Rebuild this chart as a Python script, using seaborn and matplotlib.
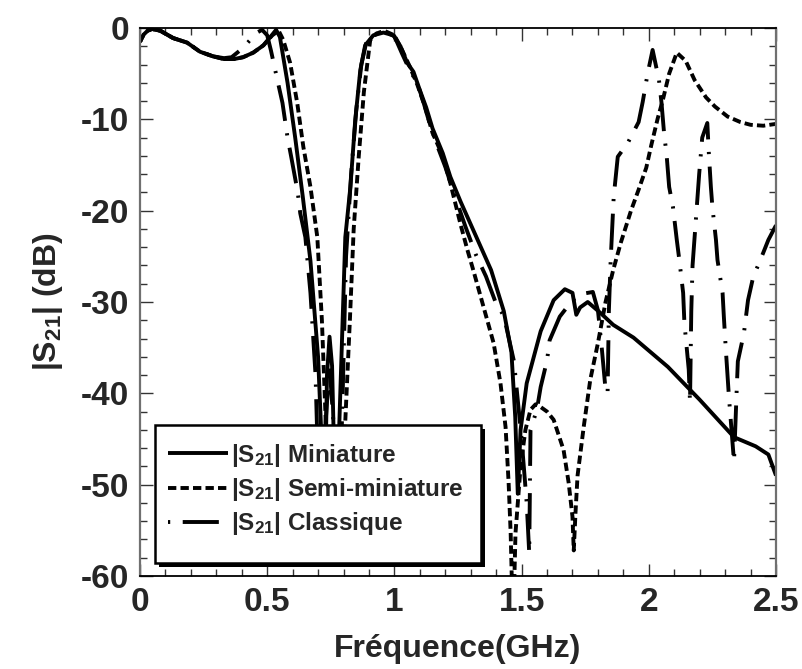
import matplotlib
matplotlib.use("Agg")
import matplotlib.pyplot as plt
import seaborn as sns
import pandas as pd
from matplotlib.patches import Rectangle

# ---------------- data ----------------
f_mini = [0.000, 0.015, 0.030, 0.047, 0.080, 0.130, 0.185, 0.236, 0.287, 0.330,
          0.370, 0.405, 0.445, 0.485, 0.515, 0.535, 0.550, 0.580, 0.610, 0.640,
          0.670, 0.700, 0.715, 0.725, 0.735, 0.745, 0.755, 0.770, 0.785, 0.807,
          0.827, 0.846, 0.866, 0.885, 0.917, 0.957, 0.996, 1.024, 1.050, 1.075,
          1.100, 1.125, 1.150, 1.190, 1.220, 1.260, 1.300, 1.340, 1.380, 1.430,
          1.460, 1.475, 1.485, 1.496, 1.520, 1.575, 1.626, 1.670, 1.700, 1.715,
          1.730, 1.760, 1.810, 1.860, 1.940, 2.075, 2.200, 2.335, 2.420, 2.470,
          2.500]
s21_mini = [-1.5, -0.7, -0.3, -0.1, -0.3, -1.1, -1.6, -2.6, -3.1, -3.4,
            -3.4, -3.2, -2.7, -1.9, -0.9, -0.2, -1.0, -6.0, -12.0, -18.5,
            -25.5, -36.0, -46.0, -55.0, -38.0, -33.8, -37.0, -55.0, -42.0, -22.9,
            -17.4, -10.1, -4.6, -1.9, -0.8, -0.5, -0.8, -2.0, -3.8, -4.8,
            -6.8, -8.7, -11.0, -13.7, -16.3, -19.0, -21.5, -24.0, -26.5, -31.0,
            -35.5, -42.6, -51.0, -44.0, -38.9, -33.2, -29.8, -28.6, -29.0, -31.4,
            -30.6, -30.0, -31.2, -32.5, -33.9, -37.1, -40.7, -44.8, -45.8, -46.7,
            -49.0]

f_semi = [0.000, 0.015, 0.030, 0.047, 0.080, 0.130, 0.185, 0.236, 0.287, 0.330,
          0.370, 0.405, 0.445, 0.485, 0.520, 0.545, 0.563, 0.590, 0.618, 0.642,
          0.670, 0.697, 0.715, 0.730, 0.745, 0.760, 0.785, 0.807, 0.825, 0.840,
          0.860, 0.880, 0.905, 0.930, 0.960, 1.000, 1.030, 1.060, 1.090, 1.120,
          1.150, 1.190, 1.220, 1.260, 1.287, 1.310, 1.350, 1.390, 1.417, 1.437,
          1.449, 1.457, 1.463, 1.470, 1.476, 1.496, 1.515, 1.535, 1.555, 1.575,
          1.600, 1.626, 1.665, 1.685, 1.700, 1.705, 1.712, 1.720, 1.744, 1.770,
          1.800, 1.830, 1.860, 1.890, 1.930, 1.960, 1.990, 2.010, 2.035, 2.055,
          2.080, 2.110, 2.145, 2.180, 2.225, 2.260, 2.310, 2.360, 2.400, 2.450,
          2.500]
s21_semi = [-1.5, -0.7, -0.3, -0.1, -0.3, -1.1, -1.6, -2.6, -3.1, -3.4,
            -3.4, -3.2, -2.7, -1.9, -0.8, -0.3, -1.3, -3.8, -8.2, -13.0,
            -17.4, -22.9, -32.0, -43.0, -52.0, -57.0, -52.0, -43.0, -32.0, -22.0,
            -14.0, -7.0, -1.3, -0.6, -0.3, -0.8, -2.4, -4.2, -6.2, -8.6,
            -11.5, -14.0, -17.0, -21.5, -24.3, -26.5, -30.5, -34.5, -38.9, -43.7,
            -49.8, -55.3, -62.0, -62.0, -55.3, -48.0, -44.0, -41.8, -41.2, -41.5,
            -42.0, -42.9, -46.2, -49.8, -53.5, -57.2, -53.0, -49.0, -43.7, -38.5,
            -34.5, -30.0, -26.5, -23.5, -20.0, -17.7, -15.3, -12.8, -9.9, -7.9,
            -5.0, -2.7, -3.6, -5.7, -7.6, -8.6, -9.7, -10.3, -10.6, -10.7,
            -10.5]

f_clas = [0.000, 0.015, 0.030, 0.047, 0.080, 0.130, 0.185, 0.236, 0.287, 0.330,
          0.360, 0.400, 0.430, 0.460, 0.480, 0.500, 0.515, 0.540, 0.560, 0.580,
          0.595, 0.620, 0.630, 0.650, 0.670, 0.690, 0.700, 0.710, 0.725, 0.745,
          0.765, 0.780, 0.795, 0.810, 0.830, 0.850, 0.870, 0.890, 0.920, 0.960,
          1.000, 1.030, 1.060, 1.090, 1.115, 1.140, 1.170, 1.200, 1.240, 1.280,
          1.320, 1.360, 1.400, 1.430, 1.470, 1.500, 1.520, 1.530, 1.535, 1.560,
          1.575, 1.600, 1.610, 1.650, 1.700, 1.740, 1.780, 1.800, 1.815, 1.830,
          1.838, 1.843, 1.850, 1.862, 1.878, 1.917, 1.960, 1.976, 1.996, 2.015,
          2.040, 2.050, 2.060, 2.070, 2.080, 2.095, 2.110, 2.120, 2.135, 2.140,
          2.157, 2.162, 2.167, 2.172, 2.185, 2.198, 2.210, 2.230, 2.236, 2.244,
          2.250, 2.264, 2.270, 2.290, 2.295, 2.303, 2.315, 2.335, 2.345, 2.350,
          2.374, 2.390, 2.410, 2.450, 2.470, 2.500]
s21_clas = [-1.5, -0.7, -0.3, -0.1, -0.3, -1.1, -1.6, -2.6, -3.1, -3.3,
            -3.2, -2.3, -1.4, -0.5, -0.2, -0.8, -2.5, -5.7, -8.2, -12.0,
            -14.2, -18.0, -20.3, -22.9, -29.0, -38.0, -48.0, -56.0, -45.0, -37.0,
            -45.0, -56.0, -42.0, -25.0, -16.0, -9.0, -4.0, -1.5, -0.7, -0.4,
            -0.9, -2.8, -4.6, -6.0, -8.2, -10.6, -13.0, -15.2, -18.6, -21.8,
            -24.8, -27.2, -30.2, -31.5, -36.5, -45.0, -52.0, -57.5, -44.0, -41.8,
            -39.3, -36.4, -34.2, -31.6, -29.8, -29.1, -28.9, -30.9, -35.0, -39.6,
            -40.0, -31.0, -25.5, -18.5, -14.1, -12.6, -10.3, -8.1, -4.9, -2.4,
            -5.7, -8.2, -11.5, -13.9, -17.4, -19.6, -23.2, -25.4, -29.0, -32.3,
            -37.4, -41.0, -31.0, -26.0, -21.0, -16.0, -12.0, -10.4, -13.7, -17.4,
            -19.6, -23.2, -25.4, -29.0, -31.6, -35.3, -40.4, -47.5, -40.0, -36.5,
            -33.4, -29.8, -27.3, -24.6, -23.2, -21.6]

series_labels = [r"|S$_{21}$| Miniature",
                 r"|S$_{21}$| Semi-miniature",
                 r"|S$_{21}$| Classique"]
x_ticks = [0, 0.5, 1, 1.5, 2, 2.5]
x_tick_labels = ["0", "0.5", "1", "1.5", "2", "2.5"]
y_ticks = [0, -10, -20, -30, -40, -50, -60]
y_tick_labels = ["0", "-10", "-20", "-30", "-40", "-50", "-60"]
x_label = "Fréquence(GHz)"
y_label = r"|S$_{21}$| (dB)"

# ---------------- style ----------------
sns.set_theme(style="white")
plt.rcParams.update({
    "font.family": ["Liberation Sans", "DejaVu Sans"],
    "font.weight": "bold",
    "axes.unicode_minus": False,
    "mathtext.fontset": "custom",
    "mathtext.rm": "Liberation Sans:bold",
    "mathtext.bf": "Liberation Sans:bold",
    "mathtext.it": "Liberation Sans:bold:italic",
    "mathtext.default": "rm",
    "lines.scale_dashes": False,
    "lines.solid_capstyle": "butt",
    "lines.dash_capstyle": "butt",
})

fig = plt.figure(figsize=(8.03, 6.69), dpi=100)
ax = fig.add_axes([140 / 803, (669 - 576) / 669, 636 / 803, 548 / 669])

lw = 2.8
styles = ["-", (0, (6, 3)), (0, (1.6, 9, 26, 9))]
datasets = [(f_mini, s21_mini), (f_semi, s21_semi), (f_clas, s21_clas)]
for (fx, sy), lab, ls in zip(datasets, series_labels, styles):
    df = pd.DataFrame({"f": fx, "s21": sy})
    sns.lineplot(data=df, x="f", y="s21", ax=ax, sort=False, estimator=None,
                 color="black", linewidth=lw, linestyle=ls, label=lab)

ax.set_xlim(0, 2.5)
ax.set_ylim(-60, 0)
ax.set_xticks(x_ticks)
ax.set_xticklabels(x_tick_labels)
ax.set_yticks(y_ticks)
ax.set_yticklabels(y_tick_labels)
ax.set_xticks([i / 10 for i in range(26)], minor=True)
ax.set_yticks([-2 * i for i in range(31)], minor=True)
ax.tick_params(which="both", direction="in", top=True, right=True,
               bottom=True, left=True, color="#333333", width=1.0)
ax.tick_params(which="major", length=9, labelsize=24, pad=8)
ax.tick_params(which="minor", length=5)
for lab in ax.get_xticklabels() + ax.get_yticklabels():
    lab.set_fontweight("bold")

for side in ["top", "bottom"]:
    ax.spines[side].set_color("black")
    ax.spines[side].set_linewidth(1.3)
for side in ["left", "right"]:
    ax.spines[side].set_color("#707070")
    ax.spines[side].set_linewidth(1.6)

ax.set_xlabel(x_label, fontsize=23, fontweight="bold")
ax.set_ylabel(y_label, fontsize=23, fontweight="bold")
ax.xaxis.set_label_coords(0.5, -0.105)
ax.yaxis.set_label_coords(-0.118, 0.5)

# legend content (frame drawn separately with a solid drop shadow)
leg = ax.legend(loc="upper left", bbox_to_anchor=(28 / 636, 0.245),
                borderaxespad=0, frameon=False,
                prop={"size": 17.5, "weight": "bold"},
                handlelength=2.45, handletextpad=0.15, labelspacing=0.3,
                borderpad=0)
leg.set_zorder(10)

box_x, box_y = 15 / 636, 13 / 548
box_w, box_h = 326 / 636, 138 / 548
shadow = Rectangle((box_x + 4 / 636, box_y - 4 / 548), box_w, box_h,
                   transform=ax.transAxes, facecolor="black",
                   edgecolor="none", zorder=9.4)
frame = Rectangle((box_x, box_y), box_w, box_h, transform=ax.transAxes,
                  facecolor="white", edgecolor="black", linewidth=1.8,
                  zorder=9.6)
ax.add_artist(shadow)
ax.add_artist(frame)

fig.savefig("out.png", dpi=100)
